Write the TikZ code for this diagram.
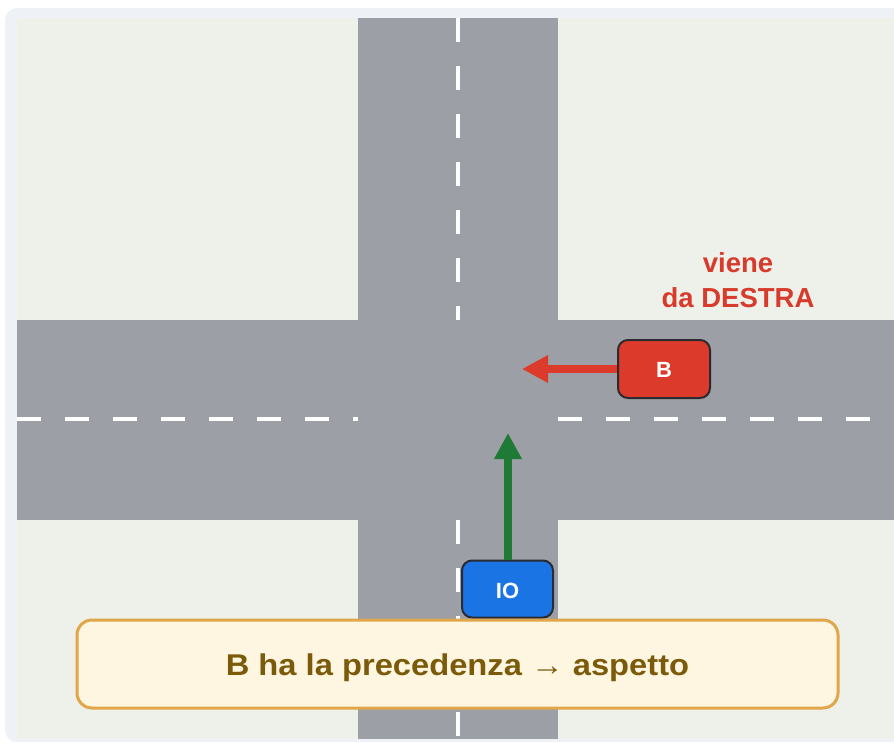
\documentclass[tikz,border=0pt]{standalone}
\usepackage{fontspec}
\setmainfont{Liberation Sans}
\usetikzlibrary{arrows.meta}
\definecolor{panel}{HTML}{EEF2F6}
\definecolor{grass}{HTML}{EDF1EA}
\definecolor{road}{HTML}{9CA0A6}
\definecolor{carred}{HTML}{DC3B2C}
\definecolor{carblue}{HTML}{1B74E4}
\definecolor{carborder}{HTML}{2A2A30}
\definecolor{arrgreen}{HTML}{1F7A35}
\definecolor{boxfill}{HTML}{FEF6E1}
\definecolor{boxline}{HTML}{E2A64A}
\definecolor{boxtext}{HTML}{7B5A0A}
\definecolor{labred}{HTML}{D83A2C}
\tikzset{
  car/.style={draw=carborder, line width=2pt, rounded corners=10pt, inner sep=0pt},
  cartext/.style={text=white, font=\bfseries\fontsize{22}{26}\selectfont, anchor=base, inner sep=0pt},
  lane/.style={draw=white, line width=4pt, dash pattern=on 24pt off 24pt},
  move/.style={line width=7.5pt, -{Triangle[length=26pt,width=26pt]}},
  infobox/.style={draw=boxline, line width=3pt, fill=boxfill, rounded corners=15pt,
    minimum width=761pt, minimum height=88pt},
  infotext/.style={text=boxtext, anchor=base, inner sep=0pt,
    font=\bfseries\fontsize{30}{34}\selectfont},
  sidelabel/.style={text=labred, align=center, font=\bfseries\fontsize{27.5}{35}\selectfont}
}
\begin{document}
\begin{tikzpicture}[x=1pt,y=-1pt]
\useasboundingbox (0,0) rectangle (894,742);
\fill[white] (0,0) rectangle (894,742);
\fill[panel, rounded corners=12pt] (5,8) rectangle (920,742);
\fill[grass] (17,18) rectangle (894,739);
% roads
\fill[road] (358,18) rectangle (558,739);
\fill[road] (17,320) rectangle (894,520);
% lane markings
\draw[lane] (458,18) -- (458,320);
\draw[lane] (17,419) -- (358,419);
\draw[lane] (558,419) -- (894,419);
\draw[lane] (458,520) -- (458,739);
% cars
\node[car, fill=carred, minimum width=92pt, minimum height=58pt] (B) at (664,369) {};
\node[cartext] (Bt) at (664,377) {B};
\node[car, fill=carblue, minimum width=91pt, minimum height=57pt] (IO) at (507.5,589) {};
\node[cartext] (IOt) at (507.5,598) {IO};
\coordinate (Btip) at (522,369);
\coordinate (IOtip) at (508,433);
\draw[move, draw=carred, fill=carred] (B.west) -- (Btip);
\draw[move, draw=arrgreen, fill=arrgreen] (IO.north -| IOtip) -- (IOtip);
% label
\node[sidelabel] (lab) at (738,280) {viene\\da DESTRA};
% info box
\node[infobox] (info) at (457.5,664) {};
\node[infotext] (infot) at (457.5,675) {\scalebox{1.09}[1]{B ha la precedenza → aspetto}};
\end{tikzpicture}
\end{document}
